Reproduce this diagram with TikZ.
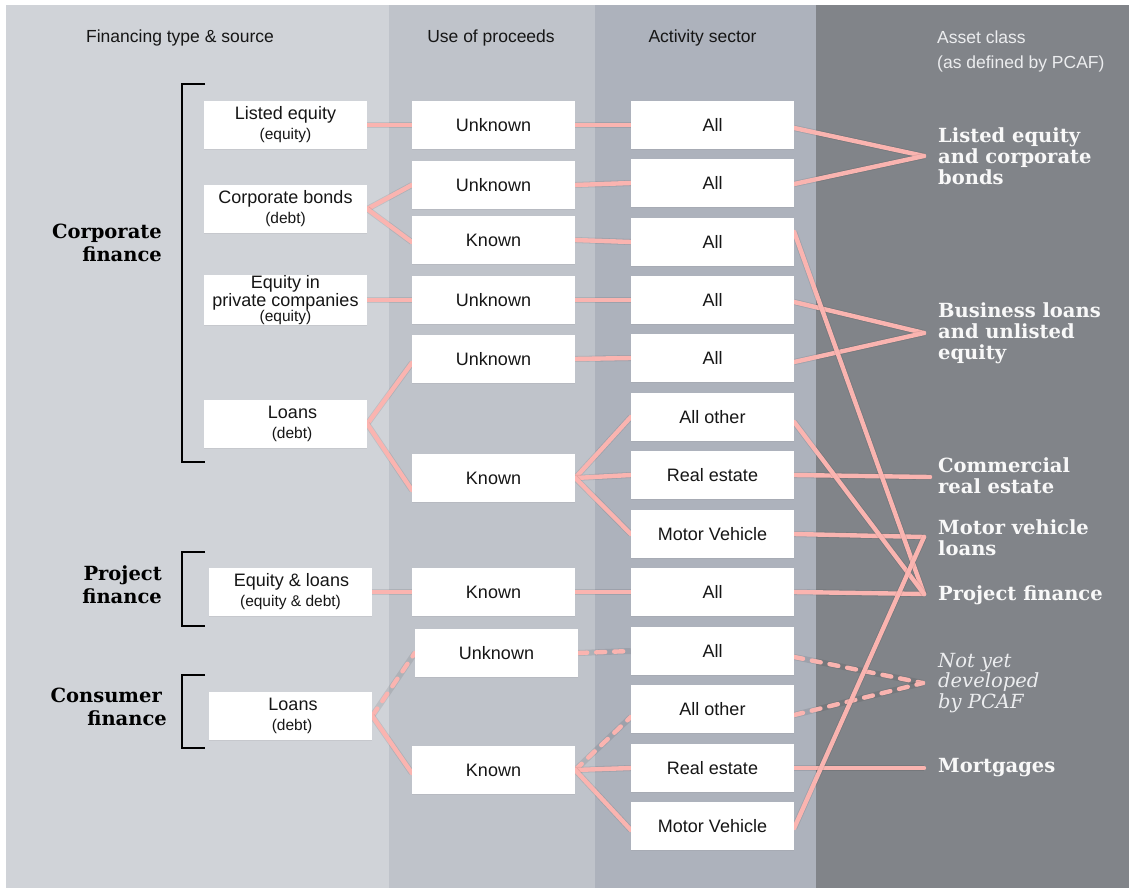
\documentclass[tikz,border=0pt]{standalone}
\usepackage{fontspec}
\setsansfont{Liberation Sans}
\setmainfont{DejaVu Serif}
\usetikzlibrary{calc,shadows}
\definecolor{colA}{RGB}{208,211,216}
\definecolor{colB}{RGB}{191,195,202}
\definecolor{colC}{RGB}{173,178,188}
\definecolor{colD}{RGB}{129,132,137}
\definecolor{pinkline}{RGB}{250,180,176}
\definecolor{txtdark}{RGB}{22,22,22}
\definecolor{txtlight}{RGB}{248,248,248}
\definecolor{hdrlight}{RGB}{236,237,239}
\pgfdeclarelayer{bg}\pgfdeclarelayer{lines}
\pgfsetlayers{bg,lines,main}
\newcommand{\sublbl}[1]{{\fontsize{15.5}{20}\selectfont #1}}
\begin{document}
\begin{tikzpicture}[x=1pt,y=-1pt,
  box/.style={fill=white, minimum width=163pt, minimum height=48pt, inner sep=0pt, align=center,
    font=\sffamily\fontsize{18}{20}\selectfont, text=txtdark,
    drop shadow={opacity=0.12, shadow xshift=0pt, shadow yshift=-1.2pt}},
  hdr/.style={inner sep=0pt, font=\sffamily\fontsize{17.5}{25}\selectfont, text=txtdark},
  grp/.style={inner sep=0pt, anchor=east, align=right, font=\fontsize{19.5}{23}\selectfont\bfseries, text=black},
  ac/.style={inner sep=0pt, anchor=west, align=left, font=\fontsize{19.5}{21}\selectfont\bfseries, text=txtlight},
  conn/.style={draw=pinkline, line width=4.4pt, line cap=round,
    preaction={draw=black, draw opacity=0.09, line width=6pt}},
  dconn/.style={conn, dash pattern=on 9pt off 9pt},
  brk/.style={draw=black, line width=1.2pt}
]
\useasboundingbox (0,0) rectangle (1129,888);
\begin{pgfonlayer}{bg}
  \fill[white] (0,0) rectangle (1129,888);
  \fill[colA] (6,5) rectangle (389,888);
  \fill[colB] (389,5) rectangle (595,888);
  \fill[colC] (595,5) rectangle (816,888);
  \fill[colD] (816,5) rectangle (1129,888);
\end{pgfonlayer}

% headers
\node[hdr] (h1) at (180,38) {Financing type \& source};
\node[hdr] (h2) at (491,38) {Use of proceeds};
\node[hdr] (h3) at (702.5,38) {Activity sector};
\node[hdr, text=hdrlight, anchor=west, align=left] (h4) at (937,51) {Asset class\\(as defined by PCAF)};

% group labels
\node[grp] (g1) at (162,243) {Corporate\\finance};
\node[grp] (g2) at (162,585) {Project\\finance};
\node[grp] (g3) at (167,707) {Consumer\hspace*{5pt}\\finance};

% brackets
\draw[brk] (205,84) -- (182,84) -- (182,462) -- (205,462);
\draw[brk] (205,552) -- (182,552) -- (182,626) -- (205,626);
\draw[brk] (205,675) -- (182,675) -- (182,748) -- (205,748);

% financing boxes
\node[box] (f1) at (285.5,125) {Listed equity\\\sublbl{(equity)}};
\node[box] (f2) at (285.5,209) {Corporate bonds\\\sublbl{(debt)}};
\node[box, font=\sffamily\fontsize{18}{15}\selectfont] (f3) at (285.5,300) {Equity in\\private companies\\{\fontsize{15.5}{14}\selectfont (equity)}};
\node[box] (f4) at (285.5,424) {\hspace*{14pt}Loans\\\hspace*{13pt}\sublbl{(debt)}};
\node[box] (f5) at (290.5,592) {\hspace*{2pt}Equity \& loans\\\sublbl{(equity \& debt)}};
\node[box] (f6) at (290.5,716) {\hspace*{5pt}Loans\\\hspace*{3pt}\sublbl{(debt)}};

% use of proceeds boxes
\node[box] (u1) at (493.5,125) {Unknown};
\node[box] (u2) at (493.5,185) {Unknown};
\node[box] (u3) at (493.5,240) {Known};
\node[box] (u4) at (493.5,300) {Unknown};
\node[box] (u5) at (493.5,359) {Unknown};
\node[box] (u6) at (493.5,478) {Known};
\node[box] (u7) at (493.5,592) {Known};
\node[box] (u8) at (496.5,653) {Unknown};
\node[box] (u9) at (493.5,770) {Known};

% activity sector boxes
\node[box] (a1) at (712.5,125) {All};
\node[box] (a2) at (712.5,183) {All};
\node[box] (a3) at (712.5,242) {All};
\node[box] (a4) at (712.5,300) {All};
\node[box] (a5) at (712.5,358) {All};
\node[box] (a6) at (712.5,417) {All other};
\node[box] (a7) at (712.5,475) {Real estate};
\node[box] (a8) at (712.5,534) {Motor Vehicle};
\node[box] (a9) at (712.5,592) {All};
\node[box] (a10) at (712.5,651) {All};
\node[box] (a11) at (712.5,709) {All other};
\node[box] (a12) at (712.5,768) {Real estate};
\node[box] (a13) at (712.5,826) {Motor Vehicle};

% asset classes
\node[ac] (r1) at (938,156) {Listed equity\\and corporate\\bonds};
\node[ac] (r2) at (938,333) {Business loans\\and unlisted\\equity};
\node[ac] (r3) at (938,476) {Commercial\\real estate};
\node[ac] (r4) at (938,538) {Motor vehicle\\loans};
\node[ac] (r5) at (938,595) {Project finance};
\node[ac, font=\fontsize{19.5}{20.5}\selectfont\itshape, text=hdrlight] (r6) at (938,683) {Not yet\\developed\\by PCAF};
\node[ac] (r7) at (938,768) {Mortgages};

\coordinate (c1) at (924,156);
\coordinate (c2) at (924,333);
\coordinate (c3) at (930,477);
\coordinate (c4) at (924,537);
\coordinate (c5) at (924,594);
\coordinate (c6) at (923,683);
\coordinate (c7) at (924,768);

\begin{pgfonlayer}{lines}
  \draw[conn] (f1.east) -- (u1.west);
  \draw[conn] (u1.east) -- (a1.west);
  \draw[conn] ($(a1.east)+(0,3)$) -- (c1);
  \draw[conn] ($(a2.east)+(0,1)$) -- (c1);
  \draw[conn] (f2.east) -- (u2.west);
  \draw[conn] (f2.east) -- ($(u3.west)+(0,2)$);
  \draw[conn] (u2.east) -- (a2.west);
  \draw[conn] (u3.east) -- (a3.west);
  \draw[conn] (f3.east) -- (u4.west);
  \draw[conn] (u4.east) -- (a4.west);
  \draw[conn] ($(a4.east)+(0,2)$) -- (c2);
  \draw[conn] ($(a5.east)+(0,4)$) -- (c2);
  \draw[conn] (f4.east) -- ($(u5.west)+(0,4)$);
  \draw[conn] (f4.east) -- ($(u6.west)+(0,12)$);
  \draw[conn] (u5.east) -- (a5.west);
  \draw[conn] (u6.east) -- (a6.west);
  \draw[conn] (u6.east) -- (a7.west);
  \draw[conn] (u6.east) -- (a8.west);
  \draw[conn] (a7.east) -- (c3);
  \draw[conn] (a8.east) -- (c4);
  \draw[conn] (f5.east) -- (u7.west);
  \draw[conn] (u7.east) -- (a9.west);
  \draw[conn] (a9.east) -- (c5);
  \draw[conn] ($(a3.east)+(0,-10)$) -- (c5);
  \draw[conn] ($(a6.east)+(0,5)$) -- (c5);
  \draw[dconn] (f6.east) -- (u8.west);
  \draw[conn] (f6.east) -- ($(u9.west)+(0,3)$);
  \draw[dconn] (u8.east) -- (a10.west);
  \draw[dconn] ($(a10.east)+(0,6)$) -- (c6);
  \draw[dconn] ($(a11.east)+(0,6)$) -- (c6);
  \draw[dconn] (u9.east) -- ($(a11.west)+(0,8)$);
  \draw[conn] (u9.east) -- (a12.west);
  \draw[conn] (u9.east) -- ($(a13.west)+(0,4)$);
  \draw[conn] (a12.east) -- (c7);
  \draw[conn] ($(a13.east)+(0,2)$) -- (c4);
\end{pgfonlayer}
\end{tikzpicture}
\end{document}
